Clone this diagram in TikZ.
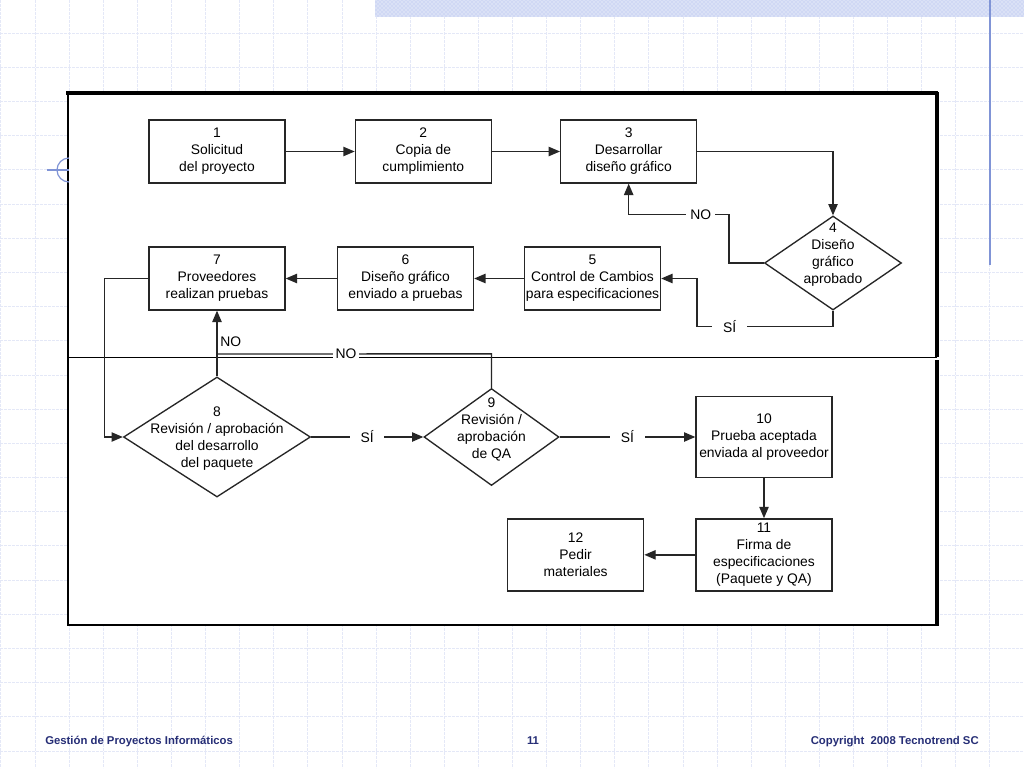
\documentclass[tikz,border=0pt]{standalone}
\usepackage{fontspec}
\setmainfont{Liberation Sans}
\usetikzlibrary{arrows.meta, positioning, shapes.geometric, patterns}
\definecolor{gridblue}{RGB}{228,232,247}
\definecolor{bandblue}{RGB}{208,216,244}
\definecolor{slideblue}{RGB}{128,148,214}
\definecolor{footnavy}{RGB}{38,46,118}
\definecolor{inkgray}{RGB}{38,38,38}
\tikzset{
    stepbox/.style={rectangle, draw=inkgray, fill=white, line width=1pt, minimum width=102pt, minimum height=#1, inner sep=1pt, align=center, font=\fontsize{10.4}{12.75}\selectfont},
    stepbox/.default=47.25pt,
    steptext/.style={align=center, inner sep=0pt, font=\fontsize{10.4}{12.75}\selectfont},
    decision/.style args={#1/#2}{diamond, draw=inkgray, fill=white, line width=1pt, minimum width=#1, minimum height=#2, inner sep=0pt},
    flow/.style={-{Triangle[length=8.5pt, width=7pt]}, draw=inkgray, line width=1pt},
    link/.style={draw=inkgray, line width=1pt},
    lbl/.style={fill=white, inner ysep=1pt, inner xsep=#1, font=\fontsize{10.4}{12}\selectfont},
    lbl/.default=3pt,
    gridline/.style={gridblue, line width=0.6pt, dash pattern=on 2pt off 1pt},
    footer/.style={font=\fontsize{8.5}{10}\selectfont\bfseries, text=footnavy, inner sep=0pt}
}

\begin{document}
\begin{tikzpicture}[x=0.75pt, y=-0.75pt, node distance=30pt and 51.75pt]

\useasboundingbox (0,0) rectangle (1024,768);
\fill[white] (0,0) rectangle (1024,768);

% slide background
\foreach \i in {0,...,30}
    \draw[gridline] ({0.9+34.1*\i},0) -- ({0.9+34.1*\i},768);
\foreach \j in {-1,...,21}
    \draw[gridline] (0,{33+34.19*\j}) -- (1024,{33+34.19*\j});
\fill[bandblue] (375,0) rectangle (1024,17);
\fill[pattern=crosshatch dots, pattern color=white] (375,0) rectangle (1024,17);
\draw[slideblue, line width=1.2pt] (990,0) -- (990,265);

% frame of the chart
\fill[white] (68,93) rectangle (937,625);
\draw[line width=1.1pt] (68,93) -- (68,625);
\draw[line width=0.9pt] (68,357.5) -- (937,357.5);
\draw[line width=2.4pt] (66,93) -- (938,93);
\draw[line width=2.6pt] (937,92) -- (937,357);
\draw[line width=2.6pt] (937,360) -- (937,626);
\draw[line width=2.2pt] (67,625) -- (938,625);
\draw[slideblue, line width=0.9pt] (69,182) arc (90:270:12);
\draw[slideblue, line width=0.9pt] (47,170) -- (69,170);

% steps
\node[stepbox] (p1) at (217,151.5) {1\\Solicitud\\del proyecto};
\node[stepbox, right=of p1] (p2) {2\\Copia de\\cumplimiento};
\node[stepbox, right=51pt of p2] (p3) {3\\Desarrollar\\diseño gráfico};
\node[decision=102.75pt/70.5pt] (d4) at (833,263) {};
\node[steptext, yshift=6pt] (t4) at (d4) {4\\Diseño\\gráfico\\aprobado};

\node[stepbox] (p5) at (592.5,278.5) {5\\Control de Cambios\\para especificaciones};
\node[stepbox] (p6) at (405.5,278.5) {6\\Diseño gráfico\\enviado a pruebas};
\node[stepbox] (p7) at (217,278.5) {7\\Proveedores\\realizan pruebas};

\node[decision=140.25pt/90pt] (d8) at (217,437) {};
\node[steptext, yshift=-1.5pt] (t8) at (d8) {8\\Revisión / aprobación\\del desarrollo\\del paquete};
\node[decision=101.25pt/72.75pt] (d9) at (491.5,437) {};
\node[steptext, yshift=6pt] (t9) at (d9) {9\\Revisión /\\aprobación\\de QA};

\node[stepbox=60.75pt] (p10) at (764,437) {10\\Prueba aceptada\\enviada al proveedor};
\node[stepbox=54pt, below=of p10] (p11) {11\\Firma de\\especificaciones\\(Paquete y QA)};
\node[stepbox=54pt, left=38.25pt of p11] (p12) {12\\Pedir\\materiales};

% connectors
\draw[flow] (p1) -- (p2);
\draw[flow] (p2) -- (p3);
\draw[flow] (p3.east) -| (d4.north);
\draw[flow] (d4.west) -- ++(-35,0) |- node[lbl, pos=0.64] {NO} ([yshift=-23.25pt]p3.south) -- (p3.south);
\draw[flow] (d4.south) -- ++(0,16) -- node[lbl=8pt, pos=0.76] {SÍ} ++(-136,0) |- (p5.east);
\draw[flow] (p5) -- (p6);
\draw[flow] (p6) -- (p7);
\draw[flow] (p7.west) -- ++(-44,0) |- (d8.west);
\draw[flow] (d8.north) -- node[right, inner sep=2pt, pos=0.52, font=\fontsize{10.4}{12}\selectfont] {NO} (p7.south);
\draw[link] (d9.north) -- ++(0,-34) -- node[lbl=2pt, pos=0.53] {NO} (d8.north |- 0,354);
\draw[flow] (d8.east) -- node[lbl=8pt] {SÍ} (d9.west);
\draw[flow] (d9.east) -- node[lbl=8pt] {SÍ} (p10.west);
\draw[flow] (p10) -- (p11);
\draw[flow] (p11) -- (p12);

% footer
\node[footer, anchor=base west] (ftleft) at (45,744) {Gestión de Proyectos Informáticos};
\node[footer, anchor=base] (ftpage) at (533,744) {11};
\node[footer, anchor=base east] (ftright) at (979,744) {Copyright\ \ 2008 Tecnotrend SC};

\end{tikzpicture}
\end{document}
